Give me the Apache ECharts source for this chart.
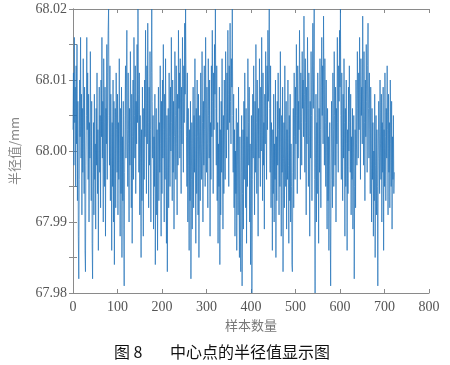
<!DOCTYPE html>
<html>
<head>
<meta charset="utf-8">
<script src="https://cdn.jsdelivr.net/npm/echarts@6/dist/echarts.min.js"></script>
<style>
html,body{margin:0;padding:0;background:#fff;}
#chart{width:450px;height:365px;}
</style>
</head>
<body>
<div id="chart"></div>
<script>
// Radius value (mm) for each sample
const radiusValues = [
68.003,68.011,67.998,68.016,68.004,68.009,67.995,68.012,68.001,68.015,67.993,68.007,67.988,67.982,67.996,68.010,68.002,68.016,67.999,68.008,
67.991,68.006,67.997,68.013,68.001,67.994,68.009,67.986,67.983,67.998,68.005,68.016,68.003,68.011,67.996,68.008,67.990,68.004,67.999,68.014,
68.002,67.993,68.007,67.987,67.982,67.995,68.004,67.991,68.008,67.996,68.001,67.989,68.006,67.998,68.011,67.994,68.003,67.986,68.000,68.009,
67.997,68.005,67.992,68.010,68.002,68.016,67.999,68.007,67.990,68.013,68.004,67.995,68.009,67.988,68.006,68.001,68.015,67.996,68.011,68.017,
68.020,68.005,67.998,68.012,67.993,68.008,68.001,67.986,68.004,67.995,68.010,67.990,68.007,67.984,67.999,68.006,67.992,68.011,68.003,67.997,
68.008,67.991,68.004,67.996,68.013,68.000,67.988,68.006,67.994,68.009,67.985,68.002,67.993,68.007,67.989,67.981,67.997,68.005,68.012,67.999,
68.009,68.017,68.003,67.995,68.011,68.001,67.990,68.006,67.998,68.014,68.004,67.992,68.008,67.987,68.002,68.010,67.996,68.016,68.005,67.999,
68.012,67.994,68.007,68.001,68.015,68.004,68.020,68.008,67.997,68.011,67.991,68.005,67.999,67.985,68.003,67.993,68.009,68.000,67.988,68.006,
67.996,68.010,68.002,68.017,68.006,67.994,68.012,68.001,68.018,68.004,67.992,68.009,67.998,68.014,68.003,67.990,68.011,68.020,68.007,67.999,
68.005,67.989,68.002,67.995,68.008,67.984,67.998,68.006,67.991,68.003,67.986,68.000,68.009,67.993,68.004,67.997,68.012,68.001,67.988,68.007,
67.994,68.010,67.999,68.015,68.003,67.990,68.008,67.996,68.013,68.001,67.987,68.005,67.983,67.998,68.006,67.992,68.011,68.002,67.995,68.009,
68.000,68.016,68.004,67.993,68.010,67.997,68.007,67.989,68.002,68.014,68.005,67.996,68.012,68.001,67.991,68.008,67.998,68.017,68.006,68.011,
67.999,68.013,68.003,67.994,68.009,68.001,68.016,68.007,67.997,68.012,68.004,68.018,68.008,68.020,68.010,68.002,67.995,68.011,67.990,68.006,
67.998,67.986,68.003,67.993,68.007,67.982,67.996,68.004,67.989,68.001,68.009,67.992,68.005,67.997,68.013,68.000,67.987,68.006,67.994,68.010,
68.002,67.991,68.008,67.985,67.999,68.005,67.993,68.011,68.001,67.996,68.014,68.004,67.990,68.007,67.998,68.012,68.003,67.995,68.016,68.006,
67.997,68.009,68.001,67.992,68.013,68.005,67.999,68.010,67.988,68.004,67.996,68.012,68.002,68.017,68.007,67.994,68.011,68.003,68.015,68.008,
68.020,68.006,67.998,68.012,67.993,68.004,67.987,68.001,67.995,68.009,67.984,68.003,67.991,68.007,67.997,68.013,68.000,67.989,68.005,67.994,
68.010,68.002,67.996,68.014,68.006,67.999,68.011,68.003,68.017,68.008,67.995,68.012,68.004,68.018,68.007,68.001,68.013,68.009,68.020,68.005,
67.997,68.008,67.992,68.003,67.988,68.000,67.994,68.006,67.986,67.998,68.004,67.991,68.009,67.996,67.985,68.002,67.990,67.983,67.997,68.005,
67.981,67.994,68.003,67.989,68.007,67.996,68.011,68.000,67.992,68.006,67.987,68.002,67.995,68.013,68.004,67.998,68.009,67.990,68.001,67.984,
67.993,68.005,67.980,67.996,68.008,67.999,68.012,68.002,67.991,68.007,67.997,68.015,68.004,67.994,68.010,68.001,67.988,68.006,67.999,68.013,
68.003,67.995,68.009,68.000,68.016,68.006,67.993,68.011,67.998,68.004,67.989,68.008,68.001,68.014,68.005,67.996,68.012,68.003,68.017,68.007,
68.010,68.020,68.006,67.997,68.012,67.992,68.004,67.999,67.986,68.003,67.994,68.008,67.990,68.001,67.996,68.010,67.985,68.002,67.993,68.007,
67.998,68.011,68.003,67.991,68.006,67.995,68.014,68.001,67.988,68.005,67.997,68.009,67.983,67.999,68.004,67.992,68.012,68.000,67.995,68.007,
67.989,68.003,67.996,68.010,67.998,67.987,68.005,67.993,68.008,67.990,68.001,67.995,67.984,67.983,67.997,68.006,67.992,68.011,68.002,67.996,
68.009,68.001,68.015,68.005,67.994,68.012,67.999,68.007,68.003,68.017,68.008,67.996,68.011,68.004,67.998,68.014,68.006,68.010,68.002,68.019,
68.008,67.997,68.013,68.004,67.991,68.009,68.001,68.016,68.006,67.995,68.011,68.002,67.988,68.007,67.999,68.014,68.005,67.993,68.010,68.018,
68.006,68.012,68.020,67.996,67.980,67.999,68.008,67.990,68.004,67.994,68.011,68.001,67.987,68.006,67.997,68.013,68.003,67.992,68.009,68.016,
68.005,68.012,68.001,68.019,68.008,67.998,68.013,68.004,67.995,68.010,68.000,67.989,68.006,67.993,68.002,67.986,67.998,68.004,67.990,67.981,
67.996,68.007,68.000,67.992,68.011,68.003,67.995,68.014,68.005,67.998,68.009,67.990,68.006,68.001,68.016,68.004,67.997,68.012,68.007,68.017,
68.009,68.020,68.005,67.996,68.011,68.002,67.993,68.008,67.999,68.013,68.004,67.988,68.006,67.995,68.010,68.001,67.986,68.003,67.994,68.009,
68.000,68.012,68.004,67.997,68.008,67.991,68.002,67.996,68.006,67.989,67.999,68.005,67.982,67.995,68.003,67.992,68.010,68.001,67.998,68.014,
68.006,67.999,68.011,68.003,68.016,68.007,67.996,68.013,68.005,68.009,68.001,68.019,68.008,67.998,68.014,68.004,67.993,68.010,68.002,68.015,
68.007,67.997,68.012,68.018,68.006,67.999,68.011,68.003,67.994,68.009,68.001,67.990,68.006,67.996,68.004,67.988,68.000,67.993,68.008,67.985,
67.998,68.005,67.991,68.003,67.995,67.981,67.999,68.007,68.002,67.994,68.010,68.001,67.996,68.008,67.990,68.004,67.997,68.009,67.986,68.003,
67.995,68.011,68.002,67.993,68.006,67.999,68.012,68.003,67.991,68.008,67.997,68.004,67.992,68.010,68.001,67.995,68.007,67.989,68.002,67.996,
68.005,67.994,67.997
];
const xTicks = { min: 0, max: 800, interval: 100 };
const yTicks = { min: 67.98, max: 68.02, interval: 0.01 };
const xName = '样本数量';
const yName = '半径值/mm';
const captionNumber = '图 8';
const captionTitle = '中心点的半径值显示图';

const seriesData = radiusValues.map((v, i) => [i, v]);

const chart = echarts.init(document.getElementById('chart'), null, { renderer: 'canvas' });
const frameColor = '#8a8a8a';
const labelFont = { color: '#555', fontFamily: 'Liberation Serif', fontSize: 14 };
const gridLeft = 67, gridRight = 21, gridTop = 9, gridBottom = 72;

chart.setOption({
  animation: false,
  backgroundColor: '#fff',
  grid: { left: gridLeft, right: gridRight, top: gridTop, bottom: gridBottom, containLabel: false },
  xAxis: [
    {
      type: 'value', min: xTicks.min, max: xTicks.max, interval: xTicks.interval,
      position: 'bottom',
      name: xName, nameLocation: 'middle', nameGap: 26,
      nameTextStyle: { color: '#777', fontFamily: 'Noto Sans CJK SC', fontSize: 13 },
      axisLine: { show: true, lineStyle: { color: frameColor, width: 1 } },
      axisTick: { show: true, inside: true, length: 4, lineStyle: { color: frameColor } },
      axisLabel: { margin: 7, color: labelFont.color, fontFamily: labelFont.fontFamily, fontSize: labelFont.fontSize },
      splitLine: { show: false }
    },
    {
      type: 'value', min: xTicks.min, max: xTicks.max, interval: xTicks.interval,
      position: 'top',
      axisLine: { show: true, lineStyle: { color: frameColor, width: 1 } },
      axisTick: { show: true, inside: true, length: 4, lineStyle: { color: frameColor } },
      axisLabel: { show: false },
      splitLine: { show: false }
    }
  ],
  yAxis: [
    {
      type: 'value', min: yTicks.min, max: yTicks.max, interval: yTicks.interval,
      position: 'left',
      name: yName, nameLocation: 'middle', nameGap: 52, nameRotate: 90,
      nameTextStyle: { color: '#888', fontFamily: 'Noto Sans CJK SC', fontSize: 13 },
      axisLine: { show: true, lineStyle: { color: frameColor, width: 1 } },
      axisTick: { show: true, inside: true, length: 4, lineStyle: { color: frameColor } },
      minorTick: { show: true, splitNumber: 2, length: 4, lineStyle: { color: frameColor } },
      axisLabel: { margin: 6, formatter: v => v.toFixed(2), color: labelFont.color, fontFamily: labelFont.fontFamily, fontSize: labelFont.fontSize },
      splitLine: { show: false }
    },
    {
      type: 'value', min: yTicks.min, max: yTicks.max, interval: yTicks.interval,
      position: 'right',
      axisLine: { show: true, lineStyle: { color: frameColor, width: 1 } },
      axisTick: { show: true, inside: true, length: 4, lineStyle: { color: frameColor } },
      minorTick: { show: true, splitNumber: 2, length: 4, lineStyle: { color: frameColor } },
      axisLabel: { show: false },
      splitLine: { show: false }
    }
  ],
  series: [{
    type: 'line',
    xAxisIndex: 0, yAxisIndex: 0,
    data: seriesData,
    showSymbol: false,
    symbol: 'none',
    lineStyle: { color: '#2474b9', width: 0.9, opacity: 0.8 },
    silent: true
  }],
  graphic: [
    {
      type: 'text', left: 114, top: 344,
      style: { text: captionNumber, fill: '#111', font: '16px "Noto Sans CJK SC"' }
    },
    {
      type: 'text', left: 170, top: 344,
      style: { text: captionTitle, fill: '#111', font: '16px "Noto Sans CJK SC"' }
    }
  ]
});
</script>
</body>
</html>
